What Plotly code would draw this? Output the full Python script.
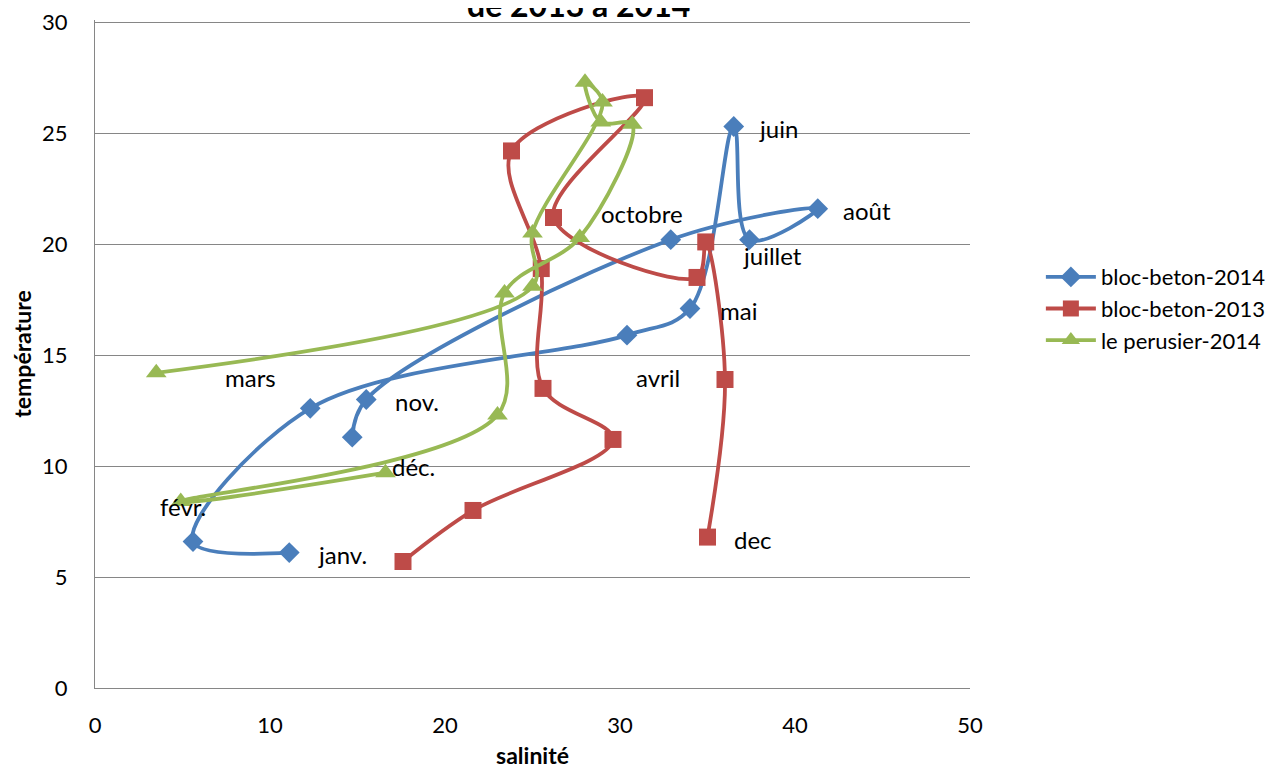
import plotly.graph_objects as go

# bloc-beton-2014 (janv. -> déc.)
beton14_sal = [11.1, 5.6, 12.3, 30.4, 34.0, 36.5, 37.4, 41.3, 32.9, 15.5, 14.7]
beton14_temp = [6.1, 6.6, 12.6, 15.9, 17.1, 25.3, 20.2, 21.6, 20.2, 13.0, 11.3]

# bloc-beton-2013
beton13_sal = [17.6, 21.6, 29.6, 25.6, 25.5, 23.8, 31.4, 26.2, 34.4, 34.9, 36.0, 35.0]
beton13_temp = [5.7, 8.0, 11.2, 13.5, 18.9, 24.2, 26.6, 21.2, 18.5, 20.1, 13.9, 6.8]

# le perusier-2014
perusier_sal = [16.6, 4.9, 23.0, 23.4, 27.7, 30.7, 28.9, 28.0, 29.0, 25.0, 25.0, 3.5]
perusier_temp = [9.7, 8.4, 12.3, 17.8, 20.3, 25.4, 25.5, 27.3, 26.4, 20.5, 18.1, 14.2]

# month labels placed on the chart
label_text = ["juin", "août", "juillet", "octobre", "mai", "mars", "avril",
              "nov.", "déc.", "févr.", "dec", "janv."]
label_x = [37.8, 42.6, 36.9, 28.8, 35.6, 7.3, 30.8, 17.0, 16.85, 3.6, 36.4, 12.6]
label_y = [25.2, 21.5, 19.5, 21.4, 17.0, 14.0, 14.0, 12.9, 10.0, 8.2, 6.7, 6.0]

x_ticks = [0, 10, 20, 30, 40, 50]
y_ticks = [0, 5, 10, 15, 20, 25, 30]

FONT = "Lato"

fig = go.Figure()

series = [
    ("bloc-beton-2014", beton14_sal, beton14_temp, "#4A7EBB", "diamond", 16),
    ("bloc-beton-2013", beton13_sal, beton13_temp, "#BE4B48", "square", 17),
    ("le perusier-2014", perusier_sal, perusier_temp, "#98B954", "triangle-up", 18),
]
for name, xs, ys, color, symbol, size in series:
    fig.add_trace(go.Scatter(
        x=xs, y=ys, name=name, mode="lines+markers",
        line=dict(color=color, width=3.8, shape="spline", smoothing=1),
        marker=dict(symbol=symbol, size=size, color=color),
    ))

for t, x, y in zip(label_text, label_x, label_y):
    fig.add_annotation(x=x, y=y, text=t, showarrow=False, xanchor="left",
                       yanchor="middle", font=dict(size=24, color="black", family=FONT))

# title: only its last line shows at the top edge, as in the source image
fig.add_annotation(
    x=0.552, y=0.991, xref="paper", yref="paper", text="<b>de 2013 à 2014</b>",
    showarrow=False, xanchor="center", yanchor="bottom",
    font=dict(size=32, color="black", family=FONT),
)

fig.update_layout(
    width=1279, height=761,
    margin=dict(l=87, r=317, t=12, b=81),
    plot_bgcolor="white", paper_bgcolor="white",
    font=dict(family=FONT, size=22, color="black"),
    showlegend=True,
    legend=dict(x=1.081, y=0.568, xanchor="left", yanchor="middle",
                font=dict(size=22), itemwidth=50, bgcolor="rgba(0,0,0,0)"),
)

fig.update_xaxes(
    range=[0, 50], tickvals=x_ticks, showgrid=False, zeroline=False,
    showline=True, linecolor="#868686", linewidth=1,
    ticks="outside", ticklen=18, tickcolor="rgba(0,0,0,0)",
    ticklabeloverflow="allow",
    title=dict(text="<b>salinité</b>", font=dict(size=23), standoff=14),
    automargin=False,
)
fig.update_yaxes(
    range=[0, 30.1], tickvals=y_ticks, showgrid=True, gridcolor="#868686", gridwidth=1,
    zeroline=False, showline=True, linecolor="#868686", linewidth=1,
    ticks="outside", ticklen=22, tickcolor="rgba(0,0,0,0)",
    ticklabeloverflow="allow",
    title=dict(text="<b>température</b>", font=dict(size=23), standoff=8),
    automargin=False,
)

fig.write_html("out.html")
